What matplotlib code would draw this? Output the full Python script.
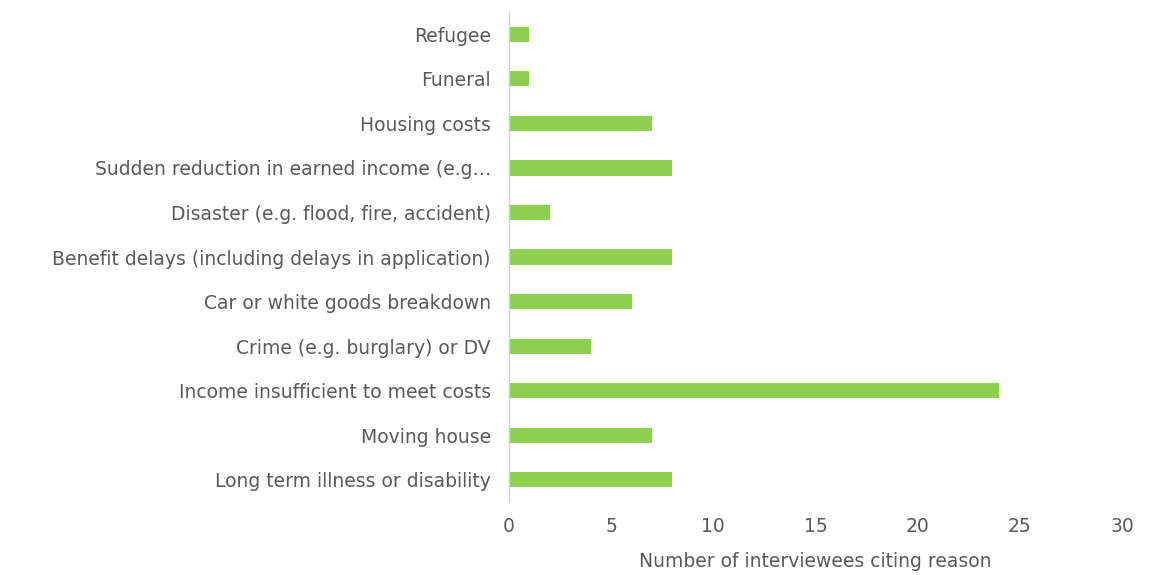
import matplotlib
matplotlib.use("Agg")
import matplotlib.pyplot as plt

categories = [
    "Refugee",
    "Funeral",
    "Housing costs",
    "Sudden reduction in earned income (e.g\u2026",
    "Disaster (e.g. flood, fire, accident)",
    "Benefit delays (including delays in application)",
    "Car or white goods breakdown",
    "Crime (e.g. burglary) or DV",
    "Income insufficient to meet costs",
    "Moving house",
    "Long term illness or disability",
]
values = [1, 1, 7, 8, 2, 8, 6, 4, 24, 7, 8]
xticks = [0, 5, 10, 15, 20, 25, 30]

plt.rcParams['font.family'] = ['DejaVu Sans']

fig = plt.figure(figsize=(11.52, 5.75), dpi=100)
ax = fig.add_axes([0.4418, 0.127, 0.974 - 0.4418, 0.979 - 0.127])

ypos = list(range(len(categories)))
ax.barh(ypos, values, height=0.34, color="#8DCF4F")
ax.set_yticks(ypos)
ax.set_yticklabels(categories)
ax.set_ylim(len(categories) - 0.5, -0.5)
ax.set_xlim(0, 30)
ax.set_xticks(xticks)
ax.set_xticklabels([str(t) for t in xticks])

for s in ["top", "right", "bottom"]:
    ax.spines[s].set_visible(False)
ax.spines["left"].set_color("#D0D0D0")
ax.spines["left"].set_linewidth(1.0)

ax.tick_params(axis="both", length=0, labelsize=13.5, colors="#595959")
ax.tick_params(axis="y", pad=13)
ax.tick_params(axis="x", pad=11)
ax.set_xlabel("Number of interviewees citing reason", fontsize=13.5, color="#595959", labelpad=11)

fig.savefig("out.png", dpi=100, facecolor="white")
